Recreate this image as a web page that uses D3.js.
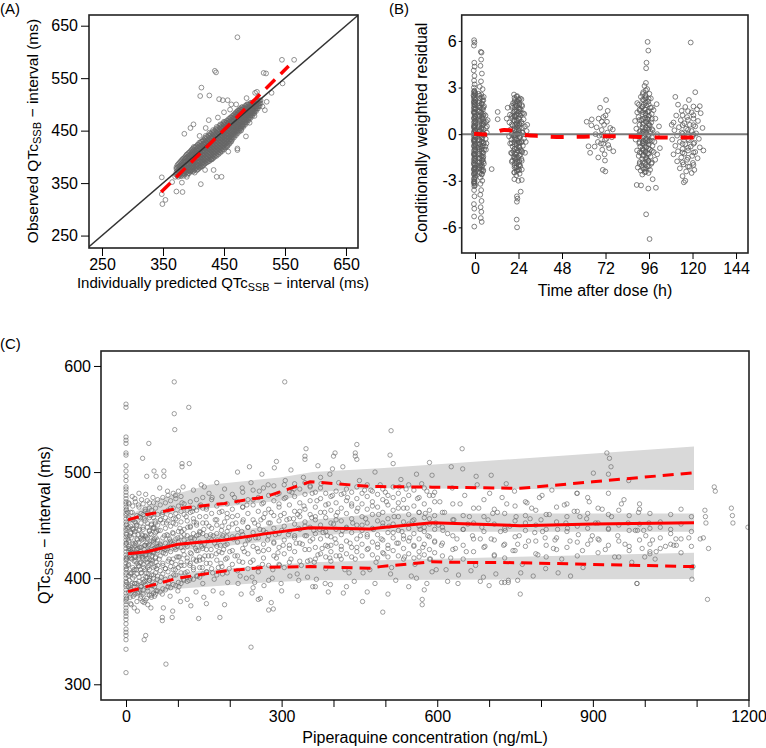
<!DOCTYPE html>
<html>
<head>
<meta charset="utf-8">
<script src="https://cdn.jsdelivr.net/npm/d3@7"></script>
<style>
  body { margin: 0; background: #fff; }
  svg { font-family: "Liberation Sans", Arial, sans-serif; }
</style>
</head>
<body>
<svg id="chart" width="766" height="748"></svg>
<script>
// ---------- (A) observed vs individually predicted ----------
const aTicks = [250, 350, 450, 550, 650];
// slices of the dense cloud: [predicted, [observed...]]
const aCoreSlices = [
  [372, [366, 371, 377, 380]],
  [373.5, [364, 368, 374, 379, 384]],
  [375, [362, 370, 374, 381, 386]],
  [376.5, [366, 371, 376, 382, 388]],
  [378, [365, 368, 373, 379, 383, 390]],
  [379.5, [363, 369, 375, 380, 386, 392]],
  [381, [366, 372, 377, 382, 388, 394]],
  [382.5, [368, 374, 379, 385, 390, 396]],
  [384, [364, 370, 376, 380, 386, 391, 397]],
  [385.5, [367, 373, 378, 383, 389, 394, 399]],
  [387, [369, 375, 381, 385, 390, 396, 401]],
  [388.5, [371, 377, 383, 387, 392, 398, 404]],
  [390, [366, 372, 378, 383, 388, 393, 399, 405]],
  [391.5, [369, 375, 380, 386, 391, 396, 402, 407]],
  [393, [369, 374, 380, 386, 390, 395, 401, 408]],
  [394.5, [372, 377, 383, 388, 393, 398, 404, 410]],
  [396, [373, 379, 385, 391, 396, 400, 406, 412]],
  [397.5, [375, 381, 387, 393, 398, 403, 409, 414]],
  [399, [372, 377, 383, 388, 393, 398, 404, 410, 416]],
  [400.5, [374, 380, 386, 391, 396, 401, 407, 413, 419]],
  [402, [370, 376, 382, 389, 395, 400, 405, 411, 418]],
  [403.5, [378, 384, 390, 396, 402, 407, 413, 419]],
  [405, [374, 380, 386, 391, 397, 403, 408, 414, 420]],
  [406.5, [376, 383, 389, 394, 400, 406, 411, 417, 423]],
  [408, [377, 382, 388, 394, 399, 405, 411, 417, 423]],
  [409.5, [379, 385, 391, 397, 403, 409, 415, 421, 427]],
  [411, [380, 384, 391, 396, 402, 408, 413, 419, 426]],
  [412.5, [382, 388, 394, 399, 405, 411, 416, 422, 429]],
  [414, [382, 387, 393, 399, 405, 410, 416, 422, 429]],
  [415.5, [384, 390, 396, 402, 408, 413, 419, 425, 431]],
  [417, [385, 389, 396, 402, 407, 413, 419, 425, 432]],
  [418.5, [387, 393, 399, 405, 411, 417, 423, 429, 436]],
  [420, [388, 392, 398, 404, 410, 416, 421, 427, 434, 440]],
  [421.5, [390, 396, 402, 408, 414, 419, 425, 431, 438]],
  [423, [390, 394, 401, 407, 413, 418, 424, 430, 437]],
  [424.5, [392, 399, 405, 411, 416, 422, 428, 434, 441]],
  [426, [392, 397, 403, 409, 415, 421, 427, 433, 440, 446]],
  [427.5, [395, 401, 407, 413, 419, 425, 431, 437, 444]],
  [429, [395, 400, 406, 412, 418, 424, 430, 436, 443]],
  [430.5, [398, 404, 410, 416, 422, 428, 434, 440, 447]],
  [432, [397, 402, 409, 415, 421, 427, 432, 438, 445, 451]],
  [433.5, [400, 406, 412, 418, 424, 430, 436, 443, 449]],
  [435, [400, 405, 411, 417, 423, 429, 435, 441, 448]],
  [436.5, [403, 409, 415, 421, 427, 433, 439, 446, 453]],
  [438, [402, 408, 414, 420, 426, 432, 438, 444, 451, 457]],
  [439.5, [406, 412, 418, 424, 430, 436, 442, 449, 455]],
  [441, [405, 411, 417, 423, 429, 435, 441, 447, 453]],
  [442.5, [409, 415, 421, 427, 433, 439, 445, 452, 459]],
  [444, [408, 414, 420, 426, 432, 438, 444, 450, 456, 462]],
  [445.5, [412, 418, 424, 430, 436, 442, 448, 455, 461]],
  [447, [411, 417, 423, 429, 435, 441, 447, 453, 459]],
  [448.5, [415, 421, 427, 433, 439, 445, 451, 458, 464]],
  [450, [414, 420, 426, 432, 438, 444, 450, 456, 462, 467]],
  [451.5, [418, 424, 430, 436, 442, 448, 454, 461, 466]],
  [453, [418, 424, 430, 436, 442, 448, 453, 459, 465]],
  [454.5, [422, 428, 434, 440, 446, 452, 457, 463, 469]],
  [456, [421, 427, 433, 439, 445, 451, 457, 462, 468]],
  [457.5, [425, 431, 437, 443, 449, 455, 460, 466, 472]],
  [459, [425, 431, 437, 443, 449, 454, 460, 466, 472]],
  [460.5, [429, 435, 441, 447, 452, 458, 464, 470, 475]],
  [462, [429, 434, 440, 446, 452, 458, 463, 469, 475]],
  [463.5, [433, 439, 444, 450, 456, 461, 467, 473, 478]],
  [465, [438, 444, 450, 456, 461, 467, 472, 478]],
  [466.5, [437, 443, 448, 454, 460, 465, 471, 476, 481]],
  [468, [442, 448, 453, 459, 465, 470, 476, 482]],
  [469.5, [441, 447, 452, 458, 463, 469, 474, 480, 485]],
  [471, [446, 451, 457, 463, 468, 474, 479, 485]],
  [472.5, [445, 450, 456, 461, 467, 472, 478, 483, 488]],
  [474, [450, 455, 461, 466, 472, 477, 483, 488]],
  [475.5, [449, 454, 460, 465, 470, 476, 481, 487, 491]],
  [477, [454, 459, 465, 470, 475, 481, 486, 491]],
  [478.5, [453, 458, 463, 469, 474, 479, 485, 490, 494]],
  [480, [458, 463, 468, 474, 479, 484, 490, 495]],
  [481.5, [457, 462, 467, 472, 478, 483, 488, 493]],
  [483, [462, 467, 472, 477, 483, 488, 493]],
  [484.5, [461, 466, 471, 476, 481, 487, 492, 497]],
  [486, [466, 471, 476, 481, 486, 491, 497]],
  [487.5, [465, 470, 475, 480, 485, 490, 495, 500]],
  [489, [470, 475, 480, 485, 490, 495, 500]],
  [490.5, [470, 474, 479, 484, 489, 494, 499]],
  [492, [475, 480, 484, 489, 494, 499]],
  [493.5, [474, 479, 484, 488, 493, 498, 503]],
  [495, [479, 484, 488, 493, 498, 503]],
  [496.5, [478, 483, 488, 492, 497, 502]],
  [498, [483, 488, 492, 497, 502]],
  [499.5, [483, 487, 492, 496, 501, 505]],
  [501, [488, 492, 497, 501, 506]],
  [502.5, [487, 492, 496, 501, 506]],
  [504, [492, 497, 501, 506]],
  [505.5, [492, 496, 501, 506]],
  [507, [497, 502, 507]],
  [508.5, [497, 502, 507]],
  [510, [502, 508]]
];
const aOutliers = [[472,628],[435,564],[437,561],[413,532],[411,516],[426,517],[385,444],[545,585],[565,585],
  [515,560],[546,540],[501,522],[513,496],[517,489],[486,439],[472,416],[472,413],[457,410],[446,362],[438,362],
  [433,375],[419,375],[412,348],[389,362],[381,351],[372,334],[382,333],[348,361],[348,329],[349,310],[354,318],
  [405,407],[442,510],[448,508],[456,508],[487,512],[504,524],[519,559],[395,455],[400,462],[425,470],[460,490],
  [470,500],[430,395],[455,420],[480,460],[500,478],[520,505],[528,522],[365,352],[370,362],[395,375],[405,385],
  [478,450],[492,465],[410,440],[420,455],[440,475],[450,485],[462,500]];
const aFitX = [347, 556];
const aFitY = [333, 573];

// ---------- (B) CWRES vs time after dose ----------
const bXTicks = [0, 24, 48, 72, 96, 120, 144];
const bYTicks = [-6, -3, 0, 3, 6];
const bPoints = [
  // 0 h
  [-0.5,6.05],[-0.3,5.9],[-0.6,5.7],[-0.4,4.6],[-0.2,4.35],[-0.7,4.1],[-0.3,3.75],[-0.5,3.45],[-0.2,3.2],[-0.6,3.0],
  [-0.4,2.8],[0.1,2.65],[-0.8,2.5],[-0.2,2.35],[0.2,2.2],[-0.6,2.05],[-0.1,1.9],[-0.5,1.75],[0.3,1.6],[-0.7,1.45],
  [-0.2,1.3],[0.1,1.15],[-0.5,1.0],[-0.1,0.85],[0.2,0.7],[-0.6,0.55],[-0.3,0.4],[0.1,0.25],[-0.5,0.1],[-0.1,-0.05],
  [0.2,-0.2],[-0.7,-0.35],[-0.3,-0.5],[0.1,-0.65],[-0.5,-0.8],[-0.2,-0.95],[0.2,-1.1],[-0.6,-1.25],[-0.1,-1.4],[-0.4,-1.55],
  [0.1,-1.7],[-0.7,-1.85],[-0.2,-2.0],[0.2,-2.15],[-0.5,-2.3],[-0.1,-2.45],[-0.6,-2.6],[0.1,-2.75],[-0.3,-2.9],[-0.6,-3.05],
  [-0.1,-3.2],[-0.4,-3.35],[-0.5,-3.6],[-0.3,-4.0],[-0.6,-4.5],[-0.4,-4.8],[-0.5,-5.3],[-0.4,-5.95],
  [-0.3,2.75],[-0.6,2.3],[-0.2,1.85],[-0.4,1.4],[0.0,0.95],[-0.4,0.5],[0.0,0.05],[-0.4,-0.4],[0.0,-0.85],[-0.4,-1.3],
  [0.0,-1.75],[-0.4,-2.2],[0.0,-2.65],[-0.4,-3.1],
  // 2-8 h
  [3.2,5.3],[3.6,5.25],[3.4,4.8],[3.0,4.4],[3.8,3.9],[3.3,3.4],[2.6,3.05],[4.2,2.9],
  [2.0,2.6],[3.5,2.55],[4.8,2.4],[2.8,2.3],[4.1,2.15],[2.2,2.0],[3.6,1.95],[5.0,1.8],[2.9,1.7],[4.4,1.6],[2.1,1.5],[3.4,1.4],
  [4.9,1.3],[2.6,1.2],[4.0,1.1],[2.0,1.0],[3.2,0.9],[4.6,0.8],[5.4,0.75],[2.5,0.65],[3.9,0.55],[2.1,0.45],[3.3,0.35],[4.7,0.3],
  [2.8,0.2],[4.2,0.1],[2.0,0.0],[3.5,-0.1],[5.2,-0.05],[2.6,-0.2],[4.0,-0.3],[2.2,-0.4],[3.4,-0.5],[4.8,-0.55],[2.8,-0.65],
  [4.3,-0.75],[2.0,-0.85],[3.6,-0.95],[5.0,-1.0],[2.5,-1.1],[4.0,-1.2],[2.1,-1.3],[3.3,-1.4],[4.6,-1.45],[2.7,-1.55],[4.1,-1.65],
  [2.0,-1.75],[3.5,-1.85],[4.9,-1.9],[2.6,-2.0],[3.9,-2.1],[2.2,-2.2],[3.2,-2.3],[4.4,-2.4],[2.8,-2.5],[3.7,-2.6],[3.0,-2.8],
  [4.0,-3.0],[3.0,-3.2],[3.4,-3.6],[2.9,-3.9],[3.6,-4.3],[3.1,-4.7],[3.5,-5.0],[3.2,-5.4],[3.7,-5.65],
  [2.4,1.85],[3.0,1.35],[4.4,0.95],[2.4,0.15],[3.0,-0.8],[4.4,-1.55],[3.0,-2.05],
  [5.8,1.2],[6.2,0.8],[6.0,0.4],[6.5,0.1],[5.9,-0.3],[6.3,-0.6],[6.0,-1.0],[6.6,0.5],[7.0,0.9],[5.7,-0.8],
  [9.2,-2.25],[12.5,1.43],[12.5,0.96],
  // 24 h
  [21.5,2.55],[23.2,2.45],[24.8,2.3],[22.0,2.2],[25.6,2.25],[23.5,2.1],[21.0,2.0],[24.5,1.95],[22.6,1.85],[26.0,1.8],
  [20.6,1.7],[23.8,1.7],[25.2,1.6],[22.0,1.55],[24.3,1.45],[21.2,1.4],[26.5,1.35],[23.0,1.3],[19.3,1.25],[25.0,1.2],
  [22.4,1.1],[20.5,1.05],[24.0,1.0],[26.8,0.95],[21.6,0.9],[23.4,0.85],[25.5,0.8],[19.0,0.75],[22.8,0.7],[24.6,0.6],
  [20.8,0.55],[27.5,0.5],[23.1,0.45],[25.9,0.4],[21.9,0.35],[19.6,0.3],[24.2,0.25],[22.5,0.15],[26.3,0.1],[20.4,0.05],
  [23.6,0.0],[25.3,-0.05],[21.5,-0.1],[18.8,-0.15],[24.8,-0.2],[22.2,-0.25],[27.0,-0.3],[20.1,-0.35],[23.3,-0.4],[25.7,-0.45],
  [21.7,-0.5],[24.0,-0.55],[19.4,-0.6],[22.9,-0.7],[26.4,-0.75],[20.8,-0.8],[24.5,-0.85],[22.0,-0.95],[25.1,-1.0],[23.5,-1.05],
  [21.2,-1.1],[26.0,-1.15],[19.9,-1.2],[22.7,-1.3],[24.9,-1.35],[21.4,-1.45],[23.8,-1.5],[25.6,-1.6],[22.3,-1.65],[20.6,-1.7],
  [24.3,-1.8],[23.0,-1.9],[21.8,-2.0],[25.0,-2.05],[22.6,-2.15],[24.0,-2.25],[23.3,-2.35],[21.6,-2.45],[24.6,-2.55],[22.8,-2.65],
  [21.7,-2.9],[23.9,-3.0],[25.8,-2.95],[25.2,-3.7],[23.1,-4.0],[23.4,-4.15],[23.1,-4.35],[23.0,-5.5],[23.2,-6.0],
  [28.5,0.2],[28.0,-0.5],[27.2,1.3],[28.8,0.6],[27.6,-1.2],[18.0,1.7],[17.5,1.0],
  [23.9,2.25],[22.3,1.95],[24.7,1.65],[21.8,1.2],[23.7,0.55],[22.3,-0.05],[24.7,-0.55],[22.1,-1.55],[24.2,-2.0],
  // 72 h
  [61.6,0.8],[64.4,0.95],[64.2,0.57],[62.6,-0.78],[63.5,-1.2],[67.1,0.44],[69.0,1.7],[72.3,2.2],[69.9,0.8],[68.6,-0.1],
  [70.8,-0.62],[71.7,-1.7],[70.5,-2.3],[72.0,1.2],[71.2,0.6],[69.9,0.27],[71.7,-0.37],[73.5,-0.7],[76.3,-1.1],[71.9,-2.4],
  [70.2,-1.0],[73.0,0.1],[74.6,0.4],[67.8,-0.5],[66.5,0.0],[72.5,-0.3],[70.0,-0.05],[74.0,-0.9],[68.2,1.0],[75.5,-0.2],
  [73.2,1.5],[70.8,1.1],[66.0,-0.8],[71.5,-1.3],[76.0,0.3],[69.5,-0.6],[72.8,0.8],[68.0,-1.5],
  // 96 h
  [94.3,3.3],[93.5,3.1],[95.0,2.9],[92.8,2.7],[96.2,2.6],[94.0,2.5],[91.5,2.4],[97.0,2.3],[93.2,2.2],[95.6,2.1],
  [100.2,1.93],[90.4,1.9],[94.5,1.85],[92.0,1.75],[96.8,1.7],[93.6,1.6],[98.5,1.55],[91.0,1.5],[95.2,1.45],[89.5,1.4],
  [94.0,1.35],[97.5,1.3],[92.6,1.25],[96.0,1.2],[90.2,1.1],[93.8,1.05],[99.5,1.0],[95.4,0.95],[91.8,0.9],[88.3,0.85],
  [94.6,0.8],[97.2,0.75],[93.0,0.7],[90.8,0.6],[96.4,0.55],[101.5,0.5],[92.4,0.45],[95.0,0.4],[89.0,0.35],[93.9,0.3],
  [98.0,0.25],[91.3,0.2],[96.8,0.15],[94.2,0.1],[92.0,0.05],[100.5,0.0],[95.5,-0.05],[90.0,-0.1],[93.2,-0.15],[97.6,-0.2],
  [91.6,-0.25],[94.8,-0.3],[88.6,-0.35],[96.2,-0.4],[92.8,-0.45],[99.0,-0.5],[94.0,-0.55],[90.6,-0.6],[95.9,-0.65],[93.4,-0.7],
  [97.9,-0.75],[91.2,-0.8],[94.6,-0.85],[102.0,-0.9],[92.4,-0.95],[96.5,-1.0],[89.4,-1.05],[94.0,-1.1],[98.6,-1.15],[91.9,-1.2],
  [95.3,-1.25],[93.0,-1.35],[90.3,-1.4],[96.8,-1.45],[94.4,-1.5],[92.2,-1.6],[99.4,-1.65],[95.6,-1.7],[90.9,-1.8],[93.7,-1.85],
  [97.3,-1.9],[92.0,-2.0],[95.0,-2.05],[89.8,-2.15],[94.2,-2.2],[96.6,-2.3],[91.4,-2.35],[93.6,-2.45],[95.7,-2.5],[92.3,-2.6],
  [89.2,-3.27],[91.6,-3.3],[95.6,-3.5],[99.8,-3.45],[95.2,5.94],[95.6,5.38],[94.6,4.6],[94.4,4.24],[94.4,-5.16],[96.3,-6.75],
  [98.0,-2.9],[89.5,2.0],[100.5,-1.3],
  [93.0,1.9],[95.0,1.0],[93.0,0.15],[95.2,-0.45],[93.0,-1.05],[95.0,-1.6],[93.2,-2.25],[94.0,2.3],[96.0,0.6],[92.5,-0.6],
  // 120 h
  [119,5.9],[121.5,2.7],[110.5,2.4],[118,2.2],[112,1.9],[116,1.75],[122.5,1.6],[114,1.5],[119.5,1.4],[124.5,1.35],
  [111,1.2],[117,1.1],[120.5,1.0],[113.5,0.9],[123,0.85],[109.5,0.75],[115.5,0.7],[118.5,0.6],[121.5,0.5],[112.5,0.45],
  [125.5,0.4],[116.5,0.35],[110,0.25],[119.5,0.2],[114,0.1],[122,0.05],[117.5,0.0],[111.5,-0.1],[120,-0.15],[115,-0.2],
  [123.5,-0.3],[108.8,-0.35],[118,-0.4],[113,-0.5],[121,-0.55],[116,-0.65],[110.5,-0.75],[119,-0.8],[124,-0.85],[114.5,-0.95],
  [117.5,-1.05],[112,-1.1],[121.5,-1.15],[115.5,-1.25],[109.5,-1.3],[119.8,-1.4],[113.8,-1.5],[122.8,-1.55],[117,-1.65],[111.5,-1.75],
  [120.2,-1.85],[115,-1.95],[118.3,-2.1],[113,-2.2],[121,-2.3],[116.5,-2.4],[119.5,-2.5],[114.5,-2.7],[116,-3.0],[115.2,-3.1],
  [126,-1.05],[108.5,0.6],[124,1.8]
];
// extra points of the dense columns: [time, [residual...]]
const bSlices = [
  [-0.6, [2.7,2.45,2.12,1.93,1.66,1.37,1.04,0.77,0.43,0.16,-0.13,-0.46,-0.74,-1.07,-1.33,-1.66,-1.94,-2.27,-2.53,-2.86,-3.17]],
  [0.0, [2.56,2.23,2.01,1.68,1.42,1.08,0.82,0.48,0.22,-0.11,-0.38,-0.72,-0.98,-1.31,-1.58,-1.92,-2.18,-2.52,-2.79,-3.3]],
  [-0.2, [2.62,2.08,1.57,1.18,0.62,0.28,-0.32,-0.58,-1.22,-1.47,-2.12,-2.38,-3.02]],
  [2.5, [2.48,2.12,1.74,1.46,1.13,0.86,0.53,0.26,-0.04,-0.37,-0.63,-0.96,-1.24,-1.57,-1.83,-2.16,-2.44]],
  [3.8, [2.36,1.98,1.66,1.29,1.02,0.68,0.41,0.08,-0.21,-0.48,-0.82,-1.09,-1.42,-1.68,-2.02,-2.28,-2.56]],
  [4.6, [2.18,1.72,1.19,0.62,0.02,-0.58,-1.21,-1.78,-2.32]],
  [21.8, [2.34,2.06,1.73,1.46,1.14,0.87,0.53,0.26,-0.06,-0.33,-0.66,-0.93,-1.26,-1.53,-1.86,-2.13,-2.48]],
  [23.0, [2.41,2.08,1.82,1.48,1.22,0.88,0.62,0.28,0.02,-0.32,-0.58,-0.92,-1.18,-1.52,-1.78,-2.12,-2.38]],
  [24.4, [2.21,1.88,1.62,1.28,1.02,0.68,0.42,0.08,-0.18,-0.52,-0.78,-1.12,-1.38,-1.72,-1.98,-2.32]],
  [20.3, [1.82,1.17,0.63,-0.02,-0.57,-1.23,-1.78]],
  [25.8, [1.88,1.32,0.68,0.12,-0.52,-1.08,-1.72,-2.28]],
  [92.5, [2.58,2.22,1.78,1.42,0.98,0.62,0.18,-0.22,-0.58,-1.02,-1.38,-1.82,-2.18]],
  [94.2, [2.82,2.38,2.02,1.58,1.22,0.78,0.42,-0.02,-0.38,-0.82,-1.18,-1.62,-1.98,-2.42]],
  [95.8, [2.28,1.92,1.48,1.12,0.68,0.32,-0.12,-0.48,-0.92,-1.28,-1.72,-2.08]],
  [90.8, [1.58,0.92,0.18,-0.52,-1.18,-1.92]],
  [97.6, [1.72,0.98,0.32,-0.42,-1.08,-1.82]],
  [117.5, [1.48,0.92,0.28,-0.32,-0.88,-1.52,-2.08]],
  [114.5, [1.22,0.58,0.02,-0.62,-1.18,-1.82]],
  [120.5, [1.78,1.22,0.58,-0.02,-0.62,-1.18,-1.98]]
];
const bTrendT = [-0.5, 6, 12, 16, 22, 28, 36, 48, 60, 72, 84, 96, 108, 120, 126];
const bTrendR = [0.02, -0.02, 0.15, 0.27, 0.2, -0.05, -0.12, -0.18, -0.16, -0.14, -0.15, -0.2, -0.22, -0.22, -0.24];

// ---------- (C) QTc vs piperaquine concentration ----------
const cXTicks = [0, 100, 200, 300, 400, 500, 600, 700, 800, 900, 1000, 1100, 1200];
const cXLabels = [0, 300, 600, 900, 1200];
const cYTicks = [300, 400, 500, 600];
const cZeroQTc = [311,333,342,346,349,352,357,361,364,367,369,372,375,378,380,383,386,389,392,394,397,400,403,405,408,
  411,414,417,419,422,425,428,431,433,436,439,442,445,447,450,453,456,459,461,464,467,470,472,475,478,481,484,486,
  492,496,501,506,516,518,527,530,533,561,564];
const cLow = [
  [3,447],[5,430],[4,412],[6,398],[8,455],[7,421],[9,390],[10,438],[11,405],[12,462],[13,427],[14,383],[15,446],[16,416],
  [17,395],[18,433],[19,452],[20,408],[21,424],[22,386],[23,441],[24,469],[25,401],[26,429],[27,414],[28,457],[29,392],
  [30,436],[31,420],[32,378],[33,448],[34,410],[35,427],[36,397],[37,465],[38,439],[39,405],[40,418],[41,452],[42,388],
  [43,431],[44,412],[45,444],[46,400],[47,425],[48,459],[49,384],[50,435],[51,416],[52,447],[53,403],[54,428],[55,392],
  [56,454],[57,420],[58,438],[59,409],[60,430],
  [2,420],[4,437],[6,428],[8,405],[9,443],[11,418],[12,395],[14,432],[15,408],[17,441],[18,420],[20,450],[21,395],[23,428],
  [24,412],[26,446],[27,389],[29,423],[30,405],[32,440],[33,418],[35,456],[36,431],[38,401],[39,422],[41,437],[42,410],
  [44,426],[45,398],[47,442],[48,414],[50,421],[51,393],[53,436],[54,447],[56,411],[57,427],[59,444],[60,399],
  [3,462],[5,392],[7,440],[10,425],[13,447],[16,402],[19,416],[22,436],[25,419],[28,408],[31,441],[34,396],[37,422],
  [40,433],[43,404],[46,417],[49,451],[52,425],[55,437],[58,415],
  [6,470],[12,477],[18,472],[25,480],[30,474],[38,479],[45,471],[52,476],[10,375],[16,372],[22,369],[28,381],[35,377],
  [42,375],[48,372],[55,383],[8,382],[33,385],[40,381],[58,388]
];
const cMidLow = [
  [62,445],[64,418],[66,432],[68,401],[70,460],[72,424],[74,440],[76,409],[78,452],[80,428],[82,395],[84,437],[86,466],
  [88,415],[90,443],[92,403],[94,429],[96,456],[98,420],[100,438],[102,392],[104,447],[106,412],[108,471],[110,426],
  [112,441],[114,405],[116,458],[118,419],[120,434],[122,398],[124,449],[126,423],[128,463],[130,410],[132,437],[134,428],
  [136,452],[138,402],[140,441],[142,417],[144,469],[146,430],[148,395],[150,446],[152,421],[154,458],[156,406],[158,435],
  [160,449],[162,414],[164,427],[166,476],[168,440],[170,399],[172,455],[174,423],[176,436],[178,410],[180,462],[182,431],
  [184,445],[186,404],[188,427],[190,453],[192,418],[194,439],[196,396],[198,448],[200,425],
  [63,430],[67,455],[71,412],[75,427],[79,441],[83,418],[87,433],[91,452],[95,408],[99,430],[103,420],[107,444],[111,399],
  [115,432],[119,448],[123,412],[127,438],[131,453],[135,417],[139,426],[143,443],[147,410],[151,432],[155,467],[159,421],
  [163,441],[167,405],[171,433],[175,450],[179,425],[183,414],[187,440],[191,431],[195,461],[199,409],
  [65,485],[80,482],[95,478],[110,486],[130,483],[145,488],[160,480],[175,490],[190,484],[70,385],[85,383],[100,388],
  [118,380],[135,387],[150,382],[168,388],[185,386],[72,372],[90,369],[105,378],[125,374],[140,362],[155,376]
];
const cMid = [
  [205,458],[210,421],[215,440],[220,402],[225,467],[230,432],[235,448],[240,415],[245,474],[250,438],[255,406],[260,455],
  [265,426],[270,443],[275,398],[280,462],[285,433],[290,419],[295,470],[300,445],[305,410],[310,455],[315,428],[320,481],
  [325,440],[330,404],[335,463],[340,432],[345,449],[350,416],[355,487],[360,437],[365,458],[370,422],[375,495],[380,443],
  [385,409],[390,470],[395,431],[400,451],
  [207,437],[212,452],[218,416],[223,444],[228,425],[233,469],[238,437],[243,401],[248,452],[253,428],[258,446],[263,413],
  [268,461],[273,436],[278,452],[283,408],[288,441],[293,424],[298,459],[303,431],[308,476],[313,441],[318,418],[323,456],
  [328,433],[333,447],[338,412],[343,468],[348,440],[353,427],[358,457],[363,415],[368,473],[373,446],[378,428],[383,462],
  [388,440],[393,419],[398,478],
  [209,476],[216,395],[224,485],[232,400],[241,490],[248,396],[257,482],[266,393],[274,488],[282,400],[291,479],[299,395],
  [307,492],[316,402],[324,484],[333,398],[342,495],[350,401],[359,480],[367,399],[376,489],[384,395],[393,498],[226,455],
  [262,470],[296,412],[331,460],[362,445],[389,430],
  [215,500],[238,505],[262,498],[290,510],[318,502],[345,515],[370,506],[398,503],[222,385],[255,380],[280,377],[300,388],
  [330,383],[360,392],[390,387],[275,370]
];
const cMidHigh = [
  [403,437],[408,462],[412,421],[417,445],[422,408],[427,476],[432,433],[437,452],[442,418],[447,466],[452,440],[457,405],
  [462,456],[467,428],[472,483],[477,446],[482,415],[487,460],[492,437],[497,423],[502,472],[507,449],[512,410],[517,458],
  [522,433],[527,486],[532,444],[537,420],[542,466],[547,438],[552,454],[557,413],[562,475],[567,446],[572,429],[577,461],
  [582,440],[587,418],[592,478],[597,452],
  [405,455],[415,430],[425,447],[435,470],[445,429],[455,450],[465,441],[475,468],[485,432],[495,452],[505,428],[515,443],
  [525,466],[535,437],[545,451],[555,431],[565,462],[575,448],[585,456],[595,435],
  [410,490],[430,405],[450,492],[470,408],[490,488],[510,404],[530,493],[550,402],[570,489],[590,406],[420,480],[460,483],
  [500,481],[540,484],[580,482],[440,397],[480,395],[520,398],[560,400],[598,408],
  [418,505],[445,512],[480,500],[515,508],[560,498],[590,497],[425,392],[465,387],[505,385],[545,392],[575,389],[456,378]
];
const cHigh = [
  [602,450],[608,431],[614,462],[620,442],[626,419],[632,455],[638,437],[644,470],[650,446],[656,425],[662,458],[668,440],
  [674,412],[680,466],[686,448],[692,430],[698,455],[704,437],[710,421],[716,462],[722,444],[728,431],[734,470],[740,449],
  [746,426],[752,458],[758,440],[764,413],[770,452],[776,435],[782,466],[788,443],[794,422],[800,455],[808,438],[816,460],
  [824,428],[832,446],[840,418],[848,452],[856,435],[864,463],[872,441],[880,426],[888,456],[896,436],
  [605,472],[617,408],[629,485],[641,403],[653,478],[665,407],[677,488],[689,401],[701,480],[713,404],[725,476],[737,398],
  [749,482],[761,405],[773,471],[785,402],[797,476],[809,409],[821,483],[833,405],[845,469],[857,402],[869,480],[881,410],
  [893,472],
  [611,445],[635,428],[659,451],[683,437],[707,461],[731,445],[755,432],[779,456],[803,444],[827,436],[851,447],[875,458],
  [899,440],
  [627,505],[649,503],[675,496],[704,497],[733,489],[802,478],[870,480],[901,499],[927,518],[932,513],[935,505],[930,498],
  [969,492],[960,474],[648,522],[585,509],[730,396],[755,398],[700,393],[760,385],[620,397],[640,395],
  [905,452],[912,436],[918,465],[924,427],[930,447],[936,458],[942,420],[948,440],[955,470],[962,432],[968,452],[975,415],
  [982,445],[988,462],[995,428],[1002,440],[1008,452],[1015,436],[1022,425],[1030,448],[1040,430],[1050,442],[1060,437],
  [1070,424],[1085,438],[1093,411],[1091,399],[985,395],[1000,420],[1010,425],[1020,418],[986,445],[998,445],[1056,431],[1061,431],
  [1107,437],[1113,438],[1116,464],[1117,458],[1118,452],[1123,428],[1121,380],[1134,486],[1136,482],[1167,466],
  [1169,459],[1170,452],[1199,448]
];
const cOutliers = [
  [93,585],[93,555],[94,540],[121,561],[108,508],[108,505],[122,508],[44,527],[32,513],[40,496],[54,501],[58,496],[73,501],
  [73,496],[151,486],[306,585],[241,335],[77,319],[38,346],[35,342],[89,363],[70,363],[70,360],[181,363],[190,375],
  [259,381],[284,371],[243,386],[245,391],[419,386],[365,392],[394,394],[495,368],[445,526],[400,515],[511,539],[509,516],
  [347,522],[345,512],[286,504],[442,518],[442,515],[403,518],[571,380],[571,375],[580,395],[683,397],[724,396],[737,396],
  [985,395],[1091,410]
];
// extra points of the cloud: [concentration, [QTc...]]
const cSlices = [
  [1,[396,409,418,433,441,451,465,381]], [5,[387,402,413,426,435,448,457,471]],
  [9,[393,404,419,427,442,449,462,376]], [13,[388,400,410,424,433,446,455,468]],
  [17,[385,395,408,421,431,444,453,475]], [21,[390,404,414,427,437,450,459,378]],
  [25,[387,397,411,421,434,445,458,467]], [29,[392,405,415,429,438,452,461,383]],
  [33,[389,399,413,423,437,446,460,470]], [37,[394,408,417,431,440,454,463,379]],
  [41,[391,401,415,425,438,448,461,473]], [45,[384,398,408,422,432,445,457,466]],
  [49,[393,403,417,427,441,450,464,382]], [53,[386,400,410,424,434,448,457,471]],
  [57,[395,405,419,429,443,452,466,385]], [61,[388,402,412,426,436,450,460,474]],
  [66,[397,407,421,431,445,455,469,387]], [71,[390,404,414,428,438,452,462,476]],
  [76,[399,409,423,433,447,457,471,389]], [81,[392,406,416,430,440,454,464,478]],
  [86,[401,411,425,435,449,459,473,391]], [91,[394,408,418,432,442,456,466,480]],
  [96,[403,413,427,437,451,461,475,393]], [101,[396,410,420,434,444,458,468,482]],
  [106,[405,415,429,439,453,463,477,395]], [112,[398,412,422,436,446,460,470]],
  [118,[406,416,430,440,454,464,397]], [124,[400,414,424,438,448,462,472]],
  [130,[408,418,432,442,456,466,399]], [136,[402,416,426,440,450,464,474]],
  [142,[410,420,434,444,458,468,401]], [148,[404,418,428,442,452,466,476]],
  [155,[414,427,440,452,465,406]], [165,[409,421,436,447,461,474]],
  [175,[417,430,442,455,468,403]], [185,[411,424,438,449,463,477]],
  [195,[419,432,444,457,470,405]], [205,[413,426,439,451,465,479]],
  [215,[421,434,446,459,472,407]], [225,[415,428,441,453,467,481]],
  [235,[423,436,448,461,474,409]], [245,[417,430,443,455,469,483]],
  [255,[425,438,450,463,476,410]], [265,[419,432,445,457,471,485]],
  [275,[427,440,452,465,478,412]], [285,[421,434,447,459,473,487]],
  [295,[429,442,454,467,480,413]], [305,[423,436,449,461,475,488]],
  [315,[431,444,456,469,482,415]], [325,[425,438,451,463,477,489]],
  [335,[433,446,458,471,484,416]], [345,[427,440,453,465,479,490]],
  [355,[435,448,460,473,486,417]], [365,[429,442,455,467,481,418]],
  [375,[437,450,462,475,423,485]], [385,[431,444,457,469,420,480]],
  [395,[439,452,464,477,425,416]], [405,[433,446,459,471,421,482]],
  [415,[441,454,466,479,427,418]], [425,[435,448,461,473,423,484]],
  [435,[443,456,468,481,429,420]], [445,[437,450,463,475,425,486]],
  [455,[445,458,470,432,421,480]], [465,[439,452,465,477,427,488]],
  [475,[447,460,472,434,422,482]], [485,[441,454,467,479,429,419]],
  [495,[449,462,474,436,424,484]], [505,[443,456,469,431,420,478]],
  [515,[451,464,438,426,476,486]], [525,[445,458,471,433,421,480]],
  [535,[453,466,440,428,474,418]], [545,[447,460,435,423,478,488]],
  [555,[455,468,442,430,419,483]], [565,[449,462,437,425,476,420]],
  [575,[457,470,444,432,422,485]], [585,[451,464,439,427,478,418]],
  [595,[459,446,434,424,472,481]],
  [610,[448,433,462,421]], [630,[455,440,470,427]], [650,[446,431,459,418]],
  [670,[452,437,466,425]], [690,[444,429,458,474]], [710,[451,436,465,422]],
  [730,[447,432,461,419]], [750,[454,439,468,426]], [770,[445,430,459,472]],
  [790,[450,435,464,423]], [810,[446,431,460,420]], [830,[453,438,467,427]],
  [850,[444,429,458,470]], [870,[449,434,463,421]], [890,[447,432,461,476]],
  [910,[452,437,466,424]], [930,[446,431,460,480]], [950,[450,435,464,420]],
  [970,[445,430,459,426]], [990,[451,436,465,470]], [1010,[447,432,461,423]],
  [1030,[453,438,428]], [1050,[446,460,432]], [1070,[451,437,465]], [1090,[444,430,458]]
];
// binned percentiles (observed) and simulated 95% CI bands
const cBinConc = [4, 40, 100, 190, 270, 355, 470, 490, 590, 620, 760, 900, 1095];
const cMedian = [423, 425, 432, 436, 442, 447.6, 446.4, 447.6, 452.3, 451.7, 449.5, 451, 452.3];
const cP95 = [455, 460, 465.6, 470.4, 476.8, 490.9, 486.5, 486.3, 485.8, 485.6, 484.7, 490.9, 499.4];
const cP05 = [387.3, 392, 400, 406.8, 410.3, 410.9, 409.4, 410.9, 415.5, 415, 414.6, 413, 410.9];
const cBandUX = [4, 65, 160, 297, 360, 490, 1095];
const cBandUHi = [458.5, 475, 488, 495, 500, 503.6, 524];
const cBandULo = [451, 459, 466, 473, 481, 484.7, 483.2];
const cBandMX = [4, 100, 190, 360, 490, 1095];
const cBandMHi = [430, 438, 443, 455, 461, 461];
const cBandMLo = [416, 426, 430, 440, 443.8, 443.8];
const cBandLX = [4, 100, 190, 270, 360, 490, 1095];
const cBandLHi = [393, 405, 409, 412, 415, 417, 424];
const cBandLLo = [381, 390, 393, 396, 398, 398.3, 399.2];

// ---------- drawing ----------
const svg = d3.select("#chart");
const TICK_FONT = 16;

function styleAxis(g) {
  g.attr("font-family", null).attr("font-size", TICK_FONT);
  g.select(".domain").remove();
  g.selectAll(".tick line").attr("stroke", "#000").attr("stroke-width", 1);
  g.selectAll(".tick text").attr("fill", "#000");
}

function titleWithSub(x, y, rot, size, pre, sub, post) {
  const t = svg.append("text")
    .attr("transform", `translate(${x},${y}) rotate(${rot})`)
    .attr("text-anchor", "middle")
    .attr("font-size", size)
    .attr("fill", "#000");
  t.append("tspan").text(pre);
  if (sub) {
    t.append("tspan").attr("font-size", size * 0.72).attr("dy", 3).text(sub);
    t.append("tspan").attr("dy", -3).text(post);
  }
}

function frame(x, y) {
  svg.append("rect")
    .attr("x", x.range()[0]).attr("y", y.range()[1])
    .attr("width", x.range()[1] - x.range()[0])
    .attr("height", y.range()[0] - y.range()[1])
    .attr("fill", "none").attr("stroke", "#222").attr("stroke-width", 1.6);
}

function clip(id, x, y) {
  svg.append("clipPath").attr("id", id).append("rect")
    .attr("x", x.range()[0]).attr("y", y.range()[1])
    .attr("width", x.range()[1] - x.range()[0])
    .attr("height", y.range()[0] - y.range()[1]);
  return svg.append("g").attr("clip-path", `url(#${id})`);
}

function label(x, y, txt) {
  svg.append("text").attr("x", x).attr("y", y).attr("font-size", 15).text(txt);
}

function flatten(slices) {
  return slices.flatMap(([x, ys]) => ys.map(y => [x, y]));
}

// (A)
const ax = d3.scaleLinear().domain([228.7, 669.7]).range([89, 358]);
const ay = d3.scaleLinear().domain([226.3, 670.4]).range([248, 15]);
const aData = flatten(aCoreSlices).concat(aOutliers);
const gA = clip("clipA", ax, ay);

gA.selectAll("circle").data(aData).enter().append("circle")
  .attr("cx", d => ax(d[0])).attr("cy", d => ay(d[1])).attr("r", 2.4)
  .attr("fill", "none").attr("stroke", "#666")
  .attr("stroke-opacity", 0.7).attr("stroke-width", 1);

gA.append("path")
  .datum([ax.domain()[0], ax.domain()[1]])
  .attr("d", d3.line().x(d => ax(d)).y(d => ay(d)))
  .attr("stroke", "#333").attr("stroke-width", 1.5).attr("fill", "none");

gA.append("path")
  .datum(d3.zip(aFitX, aFitY))
  .attr("d", d3.line().x(d => ax(d[0])).y(d => ay(d[1])))
  .attr("stroke", "red").attr("stroke-width", 3.5).attr("fill", "none")
  .attr("stroke-dasharray", "13,8");

frame(ax, ay);
svg.append("g").attr("transform", `translate(0,${ay.range()[0]})`)
  .call(d3.axisBottom(ax).tickValues(aTicks).tickSize(8).tickPadding(3)).call(styleAxis);
svg.append("g").attr("transform", `translate(${ax.range()[0]},0)`)
  .call(d3.axisLeft(ay).tickValues(aTicks).tickSize(8).tickPadding(3)).call(styleAxis);

titleWithSub(223, 288, 0, 15, "Individually predicted QTc", "SSB", " \u2212 interval (ms)");
titleWithSub(38, 131, -90, 15.5, "Observed QTc", "SSB", " \u2212 interval (ms)");
label(0, 14, "(A)");

// (B)
const bx = d3.scaleLinear().domain([-7.34, 150.6]).range([461.7, 748]);
const by = d3.scaleLinear().domain([-7.65, 7.67]).range([253, 15]);
const bData = bPoints.concat(flatten(bSlices));
const gB = clip("clipB", bx, by);

gB.selectAll("circle").data(bData).enter().append("circle")
  .attr("cx", d => bx(d[0])).attr("cy", d => by(d[1])).attr("r", 2.4)
  .attr("fill", "none").attr("stroke", "#5a5a5a")
  .attr("stroke-opacity", 0.85).attr("stroke-width", 0.9);

gB.append("line")
  .attr("x1", bx.range()[0]).attr("x2", bx.range()[1])
  .attr("y1", by(0)).attr("y2", by(0))
  .attr("stroke", "#7a7a7a").attr("stroke-width", 2);

gB.append("path")
  .datum(d3.zip(bTrendT, bTrendR))
  .attr("d", d3.line().x(d => bx(d[0])).y(d => by(d[1])).curve(d3.curveMonotoneX))
  .attr("stroke", "red").attr("stroke-width", 4).attr("fill", "none")
  .attr("stroke-dasharray", "13,13");

frame(bx, by);
svg.append("g").attr("transform", `translate(0,${by.range()[0]})`)
  .call(d3.axisBottom(bx).tickValues(bXTicks).tickSize(6).tickPadding(4)).call(styleAxis);
svg.append("g").attr("transform", `translate(${bx.range()[0]},0)`)
  .call(d3.axisLeft(by).tickValues(bYTicks).tickFormat(d => String(d)).tickSize(3).tickPadding(2)).call(styleAxis);

titleWithSub(605, 296, 0, 16, "Time after dose (h)");
titleWithSub(427, 133, -90, 16, "Conditionally weighted residual");
label(389, 14, "(B)");

// (C)
const cx = d3.scaleLinear().domain([-48.2, 1201]).range([101, 749]);
const cy = d3.scaleLinear().domain([285.2, 614.1]).range([700, 351]);
const gC = clip("clipC", cx, cy);

const bands = [
  [cBandUX, cBandULo, cBandUHi],
  [cBandMX, cBandMLo, cBandMHi],
  [cBandLX, cBandLLo, cBandLHi]
];
bands.forEach(([xs, lo, hi]) => {
  gC.append("path")
    .datum(xs.map((x, i) => [x, lo[i], hi[i]]))
    .attr("d", d3.area().x(d => cx(d[0])).y0(d => cy(d[1])).y1(d => cy(d[2])))
    .attr("fill", "#d9d9d9");
});

const cData = cZeroQTc.map(q => [0, q])
  .concat(cLow, cMidLow, cMid, cMidHigh, cHigh, cOutliers, flatten(cSlices));
gC.selectAll("circle").data(cData).enter().append("circle")
  .attr("cx", d => cx(d[0])).attr("cy", d => cy(d[1])).attr("r", 2.2)
  .attr("fill", "none").attr("stroke", "#666")
  .attr("stroke-opacity", 0.78).attr("stroke-width", 0.8);

const cLine = d3.line().x(d => cx(d[0])).y(d => cy(d[1]));
gC.append("path").datum(d3.zip(cBinConc, cMedian)).attr("d", cLine)
  .attr("stroke", "red").attr("stroke-width", 3).attr("fill", "none");
[cP95, cP05].forEach(p => {
  gC.append("path").datum(d3.zip(cBinConc, p)).attr("d", cLine)
    .attr("stroke", "red").attr("stroke-width", 3).attr("fill", "none")
    .attr("stroke-dasharray", "11,7");
});

frame(cx, cy);
svg.append("g").attr("transform", `translate(0,${cy.range()[0]})`)
  .call(d3.axisBottom(cx).tickValues(cXTicks).tickSize(7).tickPadding(4)
    .tickFormat(d => cXLabels.includes(d) ? String(d) : ""))
  .call(styleAxis);
svg.append("g").attr("transform", `translate(${cx.range()[0]},0)`)
  .call(d3.axisLeft(cy).tickValues(cYTicks).tickSize(7).tickPadding(3)).call(styleAxis);

titleWithSub(425, 743, 0, 16, "Piperaquine concentration (ng/mL)");
titleWithSub(50, 525, -90, 16, "QTc", "SSB", " \u2212 interval (ms)");
label(0, 349, "(C)");
</script>
</body>
</html>
